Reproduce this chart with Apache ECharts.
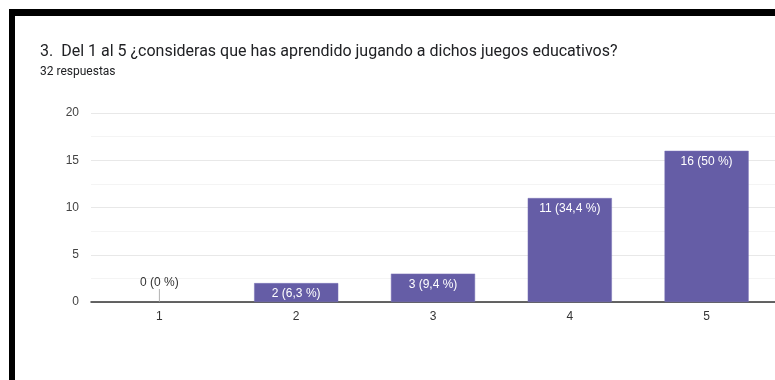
<!DOCTYPE html>
<html>
<head>
<meta charset="utf-8">
<script src="https://cdn.jsdelivr.net/npm/echarts@6/dist/echarts.min.js"></script>
<style>
  html, body { margin: 0; padding: 0; background: #ffffff; }
  #chart { width: 775px; height: 380px; }
</style>
</head>
<body>
<div id="chart"></div>
<script>
// Survey answers on a 1–5 scale
const categories = ['1', '2', '3', '4', '5'];
const counts = [0, 2, 3, 11, 16];
const totalResponses = 32;
const yTicks = [0, 5, 10, 15, 20];

const questionTitle = '3.  Del 1 al 5 ¿consideras que has aprendido jugando a dichos juegos educativos?';
const responsesText = totalResponses + ' respuestas';

function percentText(v) {
  let p = (v / totalResponses * 100).toFixed(1);
  if (p.endsWith('.0')) p = p.slice(0, -2);
  return p.replace('.', ',');
}
function labelText(v) {
  return v + ' (' + percentText(v) + ' %)';
}

const barColor = '#655da6';
const labelFont = '"Liberation Sans", Arial, sans-serif';

const barData = counts.map(function (v) {
  return {
    value: v,
    itemStyle: v === 0 ? { borderWidth: 0, color: 'rgba(0,0,0,0)' } : undefined,
    label: v === 0
      ? { show: true, position: 'top', distance: 13, color: '#333333' }
      : { show: true, position: 'insideTop', distance: 5, color: '#ffffff' }
  };
});

// thin stub drawn at zero-valued categories
const zeroStubs = categories.map(function (c, i) {
  return counts[i] === 0 ? [c, counts[i]] : null;
}).filter(Boolean);

const chart = echarts.init(document.getElementById('chart'), null, { renderer: 'canvas' });

chart.setOption({
  animation: false,
  backgroundColor: '#ffffff',
  title: [
    {
      text: questionTitle,
      left: 35, top: 39,
      textStyle: { fontFamily: 'Roboto', fontSize: 16, fontWeight: 'normal', color: '#202124' }
    },
    {
      text: responsesText,
      left: 35, top: 61,
      textStyle: { fontFamily: 'Roboto', fontSize: 12, fontWeight: 'normal', color: '#202124' }
    }
  ],
  graphic: [
    { type: 'rect', shape: { x: 9, y: 9, width: 766, height: 7 }, style: { fill: '#000000' }, z: 100 },
    { type: 'rect', shape: { x: 9, y: 9, width: 6, height: 371 }, style: { fill: '#000000' }, z: 100 }
  ],
  grid: { left: 91, right: -5, top: 113, bottom: 78, containLabel: false },
  xAxis: {
    type: 'category',
    data: categories,
    axisLine: { show: true, lineStyle: { color: '#333333', width: 1.5 } },
    axisTick: { show: false },
    axisLabel: { fontFamily: labelFont, fontSize: 12, color: '#333333', margin: 9 },
    splitLine: { show: false }
  },
  yAxis: {
    type: 'value',
    min: yTicks[0],
    max: yTicks[yTicks.length - 1],
    interval: yTicks[1] - yTicks[0],
    axisLine: { show: false },
    axisTick: { show: false },
    axisLabel: { fontFamily: labelFont, fontSize: 12, color: '#444444', margin: 12 },
    splitLine: { show: true, lineStyle: { color: '#e8e8e8', width: 1 } },
    minorTick: { show: false, splitNumber: 2 },
    minorSplitLine: { show: true, lineStyle: { color: '#f4f4f4', width: 1 } }
  },
  series: [
    {
      type: 'bar',
      data: barData,
      barWidth: '61.5%',
      itemStyle: { color: barColor, borderColor: '#7a72b6', borderWidth: 0.5 },
      label: { fontFamily: labelFont, fontSize: 12, formatter: function (p) { return labelText(p.value); } },
      z: 2
    },
    {
      type: 'scatter',
      data: zeroStubs,
      symbol: 'rect',
      symbolSize: [1, 13],
      symbolOffset: [0, -6.5],
      itemStyle: { color: '#9e9e9e' },
      silent: true,
      z: 3
    }
  ]
});
</script>
</body>
</html>
